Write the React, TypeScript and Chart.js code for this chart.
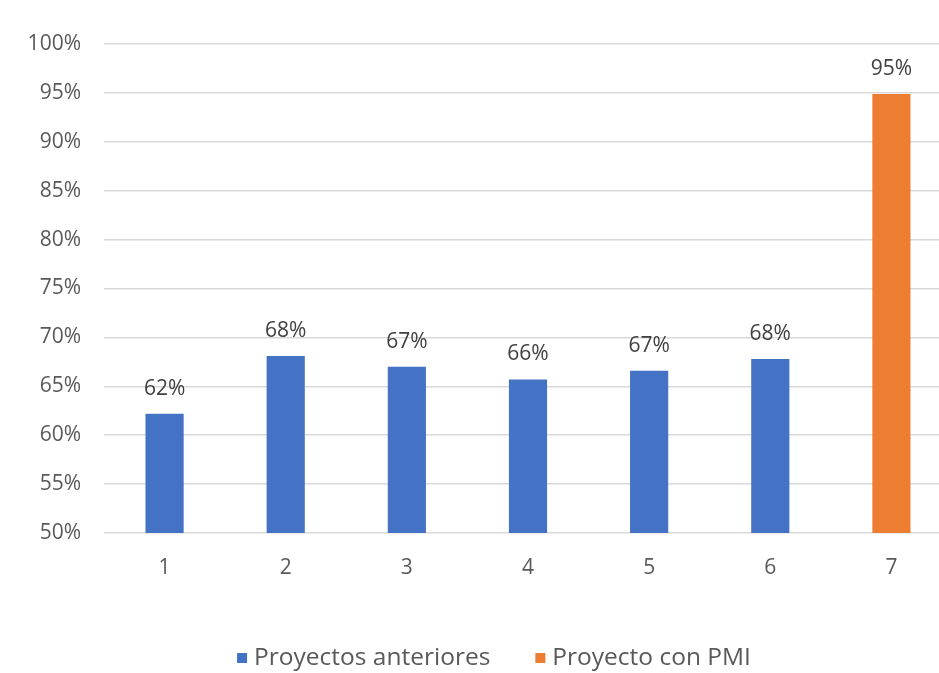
import React, { useEffect, useRef } from "react";
import { Chart, registerables } from "chart.js";

Chart.register(...registerables);

const categories = ["1", "2", "3", "4", "5", "6", "7"];
const previousProjects = [62.2, 68.1, 67.0, 65.7, 66.6, 67.8, null];
const pmiProject = [null, null, null, null, null, null, 94.9];
const seriesNames = ["Proyectos anteriores", "Proyecto con PMI"];
const seriesColors = ["#4472C4", "#ED7D31"];
const yTicks = { min: 50, max: 100, step: 5 };

const FONT = "'Open Sans', 'Noto Sans', sans-serif";
const VISIBLE_WIDTH = 939;
const LEGEND_CENTER = 494;

const valueLabels = {
  id: "valueLabels",
  afterDatasetsDraw(chart: any) {
    const ctx = chart.ctx;
    ctx.save();
    ctx.font = `21px ${FONT}`;
    ctx.fillStyle = "#404040";
    ctx.textAlign = "center";
    ctx.textBaseline = "middle";
    chart.data.datasets.forEach((ds: any, di: number) => {
      const meta = chart.getDatasetMeta(di);
      meta.data.forEach((bar: any, i: number) => {
        const v = ds.data[i];
        if (v === null || v === undefined) return;
        ctx.fillText(`${Math.round(v)}%`, bar.x, bar.y - 25);
      });
    });
    ctx.restore();
  },
};

const bottomLegend = {
  id: "bottomLegend",
  afterDraw(chart: any) {
    const ctx = chart.ctx;
    ctx.save();
    ctx.font = `24.5px ${FONT}`;
    ctx.textBaseline = "middle";
    ctx.textAlign = "left";
    const box = 10;
    const gapBoxText = 7;
    const gapItems = 45;
    const items = chart.data.datasets.map((ds: any) => ({
      label: ds.label,
      color: ds.backgroundColor,
      w: ctx.measureText(ds.label).width,
    }));
    const total =
      items.reduce((s: number, it: any) => s + box + gapBoxText + it.w, 0) +
      gapItems * (items.length - 1);
    let x = LEGEND_CENTER - total / 2;
    const y = 658;
    items.forEach((it: any) => {
      ctx.fillStyle = it.color;
      ctx.fillRect(x, y - box / 2, box, box);
      x += box + gapBoxText;
      ctx.fillStyle = "#595959";
      ctx.fillText(it.label, x, y);
      x += it.w + gapItems;
    });
    ctx.restore();
  },
};

export default function App() {
  const ref = useRef<HTMLCanvasElement>(null);
  useEffect(() => {
    if (!ref.current) return;
    const chart = new Chart(ref.current, {
      type: "bar",
      data: {
        labels: categories,
        datasets: [
          {
            label: seriesNames[0],
            data: previousProjects,
            backgroundColor: seriesColors[0],
            grouped: false,
            barPercentage: 0.315,
            categoryPercentage: 1,
          } as any,
          {
            label: seriesNames[1],
            data: pmiProject,
            backgroundColor: seriesColors[1],
            grouped: false,
            barPercentage: 0.315,
            categoryPercentage: 1,
          } as any,
        ],
      },
      options: {
        animation: false,
        responsive: false,
        maintainAspectRatio: false,
        layout: { padding: { top: 44, right: 8, left: 0, bottom: 0 } },
        plugins: {
          tooltip: { enabled: false },
          legend: { display: false },
        },
        scales: {
          x: {
            afterFit(scale: any) {
              scale.height = 140;
            },
            grid: { display: false },
            border: { display: false },
            ticks: {
              color: "#595959",
              font: { family: FONT, size: 21 },
              padding: 14,
            },
          },
          y: {
            min: yTicks.min,
            max: yTicks.max,
            afterFit(scale: any) {
              scale.width = 104;
            },
            grid: { color: "#d9d9d9", lineWidth: 1.5, drawTicks: false },
            border: { display: false },
            ticks: {
              stepSize: yTicks.step,
              color: "#595959",
              font: { family: FONT, size: 21 },
              padding: 23,
              callback: (v: any) => `${v}%`,
            },
          },
        },
      },
      plugins: [valueLabels, bottomLegend],
    });
    return () => chart.destroy();
  }, []);
  return (
    <div
      style={{
        position: "fixed",
        left: 0,
        top: 0,
        width: VISIBLE_WIDTH,
        height: 673,
        overflow: "hidden",
        background: "#fff",
      }}
    >
      <canvas ref={ref} width={960} height={673} style={{ display: "block" }} />
    </div>
  );
}
